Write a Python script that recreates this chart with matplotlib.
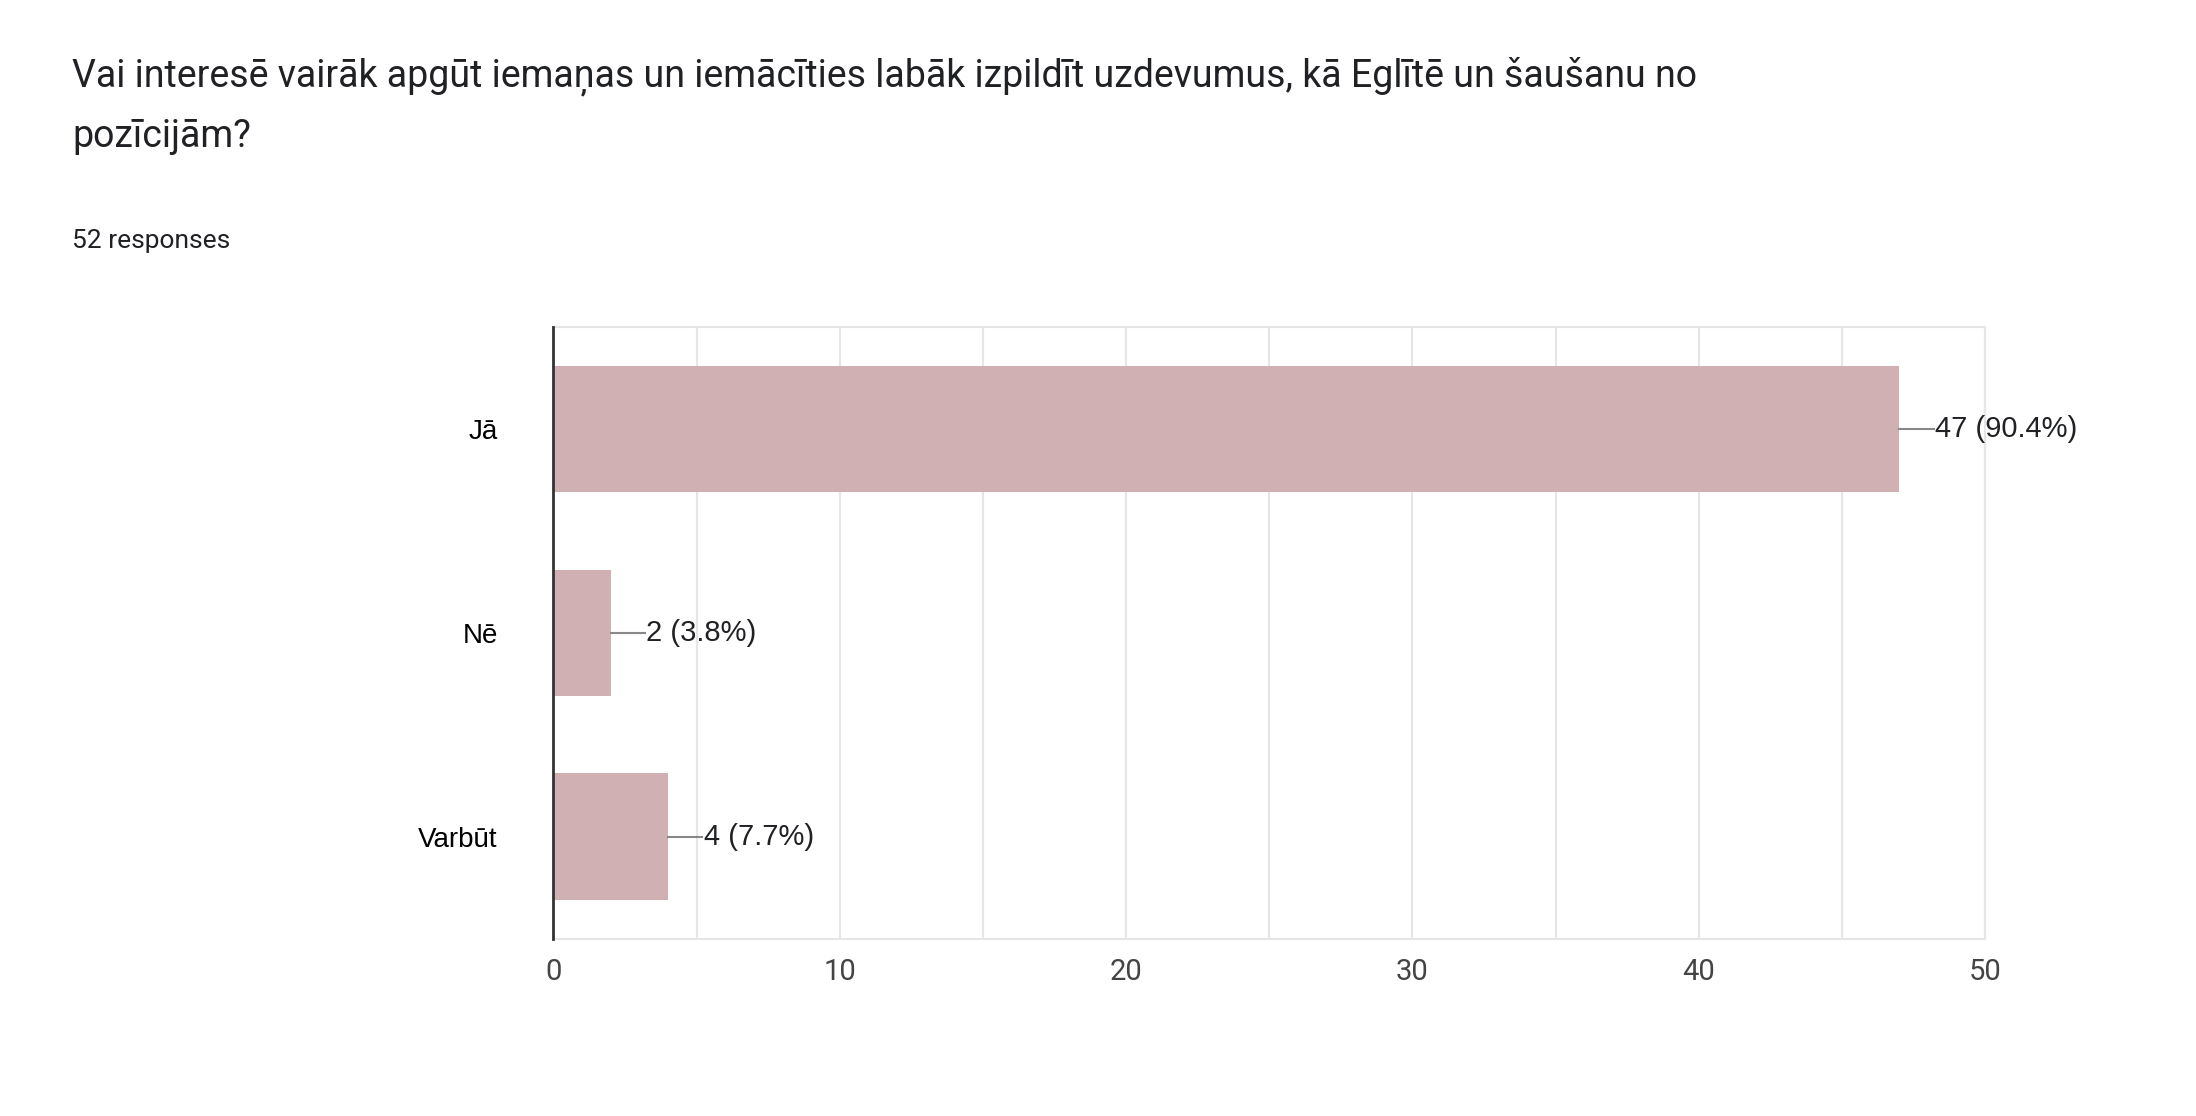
import matplotlib.pyplot as plt
from matplotlib.ticker import MultipleLocator

categories = ["Jā", "Nē", "Varbūt"]
counts = [47, 2, 4]
total = 52
title = ("Vai interesē vairāk apgūt iemaņas un iemācīties labāk izpildīt uzdevumus, kā Eglītē un šaušanu no\n"
         "pozīcijām?")

fig = plt.figure(figsize=(21.96, 11.16), dpi=100)
fig.text(0.033, 0.905, title, fontsize=27, family="Roboto", va="center", linespacing=1.75,
         color="#202124")
fig.text(0.033, 0.784, f"{total} responses", fontsize=19, family="Roboto", va="center",
         color="#202124")

ax = fig.add_axes([0.252, 0.159, 0.652, 0.548])
y = list(range(len(categories)))
ax.barh(y, counts, height=0.62, color="#d1b0b3", zorder=2)
ax.set_ylim(2.5, -0.5)
ax.set_xlim(0, 50)
ax.set_yticks(y)
ax.set_yticklabels(categories, family="Liberation Sans", fontsize=20)
ax.xaxis.set_major_locator(MultipleLocator(10))
ax.xaxis.set_minor_locator(MultipleLocator(5))
for lab in ax.get_xticklabels():
    lab.set_family("Roboto")
ax.tick_params(axis="x", labelsize=21, length=0, pad=14, colors="#444444")
ax.tick_params(axis="x", which="minor", length=0)
ax.tick_params(axis="y", length=0, pad=40)
ax.grid(axis="x", which="both", color="#e6e6e6", linewidth=1.5, zorder=0)
for s in ["top", "right", "bottom"]:
    ax.spines[s].set_color("#e6e6e6")
    ax.spines[s].set_linewidth(1.5)
ax.spines["left"].set_color("#333333")
ax.spines["left"].set_linewidth(2)
ax.spines["left"].set_zorder(3)

for i, c in enumerate(counts):
    ax.plot([c, c + 1.2], [i, i], color="#888888", linewidth=1.5, zorder=3)
    ax.text(c + 1.25, i, f"{c} ({c / total * 100:.1f}%)", va="center", ha="left",
            fontsize=21, family="Liberation Sans", color="#202124")

fig.savefig("out.png", dpi=100, facecolor="white")
